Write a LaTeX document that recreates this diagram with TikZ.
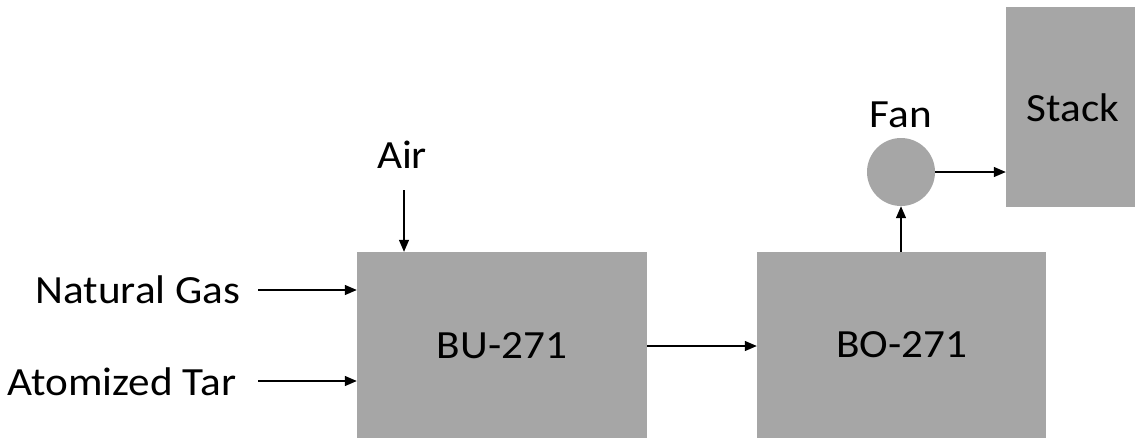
\documentclass[tikz,border=0pt]{standalone}
\usepackage{fontspec}
\setmainfont{Carlito}[FakeStretch=1.08]
\usetikzlibrary{arrows.meta}
\definecolor{boxgray}{RGB}{166,166,166}
\tikzset{
  unit/.style={fill=boxgray, draw=none, inner sep=0pt, font=\fontsize{40}{46}\selectfont},
  lbl/.style={inner sep=0pt, font=\fontsize{40}{46}\selectfont},
  flow/.style={line width=1.3pt, -{Triangle[length=12pt,width=10pt]}}
}
\begin{document}
\begin{tikzpicture}[x=1pt,y=-1pt]
\useasboundingbox (0,0) rectangle (1135,437);
\clip (0,0) rectangle (1135,437);
\node[unit, minimum width=290pt, minimum height=188pt] (bu) at (502,346) {BU-271};
\node[unit, minimum width=289pt, minimum height=186pt] (bo) at (901.5,345) {BO-271};
\node[unit, minimum width=134pt, minimum height=200pt] (stack) at (1073,107) {};
\node[lbl] (stacklbl) at (1073,108) {Stack};
\node[unit, circle, minimum size=68pt] (fan) at (901,172) {};
\node[lbl] (fanlbl) at (901,115) {Fan};
\node[lbl] (air) at (402,155) {Air};
\node[lbl] (ng) at (138,290) {Natural Gas};
\node[lbl] (at) at (122,382) {Atomized Tar};
\coordinate (airs) at (404,190);
\coordinate (ngs) at (258,290);
\coordinate (ats) at (258,381);
\draw[flow] (airs) -- (airs |- bu.north);
\draw[flow] (ngs) -- (ngs -| bu.west);
\draw[flow] (ats) -- (ats -| bu.west);
\draw[flow] (bu.east |- 0,346) -- (bo.west |- 0,346);
\draw[flow] (bo.north -| fan.south) -- (fan.south);
\draw[flow] (fan.east) -- (fan.east -| stack.west);
\end{tikzpicture}
\end{document}
